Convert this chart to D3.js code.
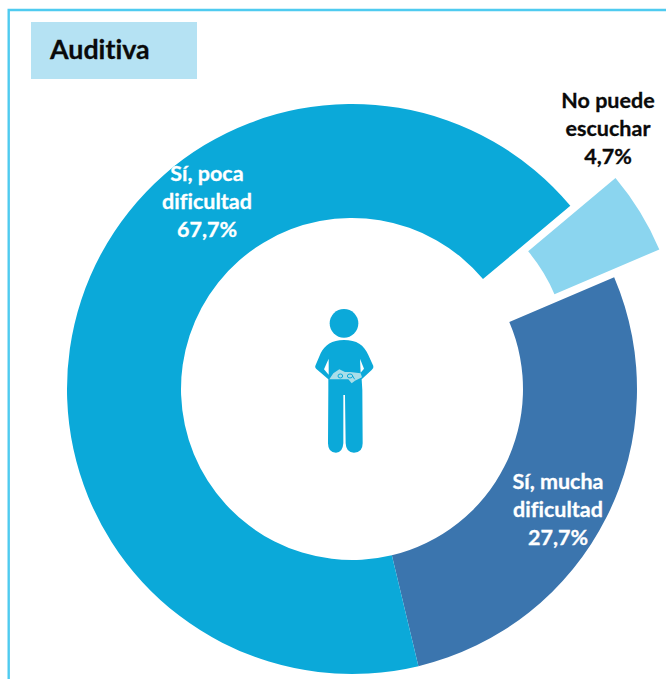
<!DOCTYPE html>
<html><head><meta charset="utf-8">
<script src="https://cdn.jsdelivr.net/npm/d3@7"></script>
<style>html,body{margin:0;padding:0;background:#fff;overflow:hidden}svg{display:block}text{font-family:Lato,"Open Sans",sans-serif;font-weight:700;font-variant-ligatures:none;font-feature-settings:"liga" 0}</style>
</head><body><svg id="c" width="666" height="679"></svg>
<script>
const categories = ["No puede escuchar", "Sí, mucha dificultad", "Sí, poca dificultad"];
const values = [4.7, 27.7, 67.7];
const valueLabels = ["4,7%", "27,7%", "67,7%"];
const labelLines = [["No puede", "escuchar"], ["Sí, mucha", "dificultad"], ["Sí, poca", "dificultad"]];
const colors = ["#8BD5EF", "#3B75AE", "#0BA9D9"];
const textColors = ["#0a0a0a", "#ffffff", "#ffffff"];
const labelCentres = [[608, 108], [558, 489], [207, 181]];
const explode = [53, 0, 0];
const title = "Auditiva";

const svg = d3.select("#c");
const cx = 352, cy = 389, R = 285, r = 171;

svg.append("path").attr("d", "M8.7 679V10H666").attr("fill", "none").attr("stroke", "#4FCBF0").attr("stroke-width", 2.4);
svg.append("rect").attr("x", 31).attr("y", 22).attr("width", 166).attr("height", 57).attr("fill", "#B5E2F3");
svg.append("text").attr("x", 50).attr("y", 59).attr("font-size", 26.8).attr("fill", "#0a0a0a").attr("stroke", "#0a0a0a").attr("stroke-width", 0.3).text(title);

const start = 50 * Math.PI / 180;
const pie = d3.pie().sort(null).value(d => d).startAngle(start).endAngle(start + 2 * Math.PI);
const arc = d3.arc().innerRadius(r).outerRadius(R);
const g = svg.append("g").attr("transform", `translate(${cx},${cy})`);
g.selectAll("path").data(pie(values)).join("path")
  .attr("d", arc)
  .attr("fill", (d, i) => colors[i])
  .attr("transform", (d, i) => {
    const m = (d.startAngle + d.endAngle) / 2;
    return `translate(${explode[i] * Math.sin(m)},${-explode[i] * Math.cos(m)})`;
  });

categories.forEach((c, i) => {
  const t = svg.append("text").attr("text-anchor", "middle").attr("font-size", 21.5).attr("fill", textColors[i]).attr("stroke", textColors[i]).attr("stroke-width", 0.3);
  labelLines[i].concat(valueLabels[i]).forEach((line, j) => {
    t.append("tspan").attr("x", labelCentres[i][0]).attr("y", labelCentres[i][1] + j * 28).text(line);
  });
});

// pictogram
const icon = svg.append("g").attr("transform", "translate(300,290) scale(0.3333)");
icon.append("circle").attr("cx", 132).attr("cy", 100).attr("r", 43).attr("fill", "#0BA9D9");
icon.append("path").attr("fill", "#0BA9D9").attr("d",
 "M132 150C170 150 192 165 205 195L220 228Q222 235 215 240L185 268L187 300L188 460Q188 488 162 488Q138 488 137 460L135 315L130 315L130 460Q128 488 108 488Q84 488 84 460L85 300L85 268L50 238Q43 232 47 225L62 190C75 165 95 150 132 150Z");
icon.append("path").attr("fill", "#fff").attr("d", "M86 206L72 238L86 254Z");
icon.append("path").attr("fill", "#fff").attr("d", "M180 206L192 236L182 248Z");
icon.append("path").attr("fill", "#A9DEE9").attr("d",
 "M88 268L100 250L118 238L135 246L150 246L182 250L186 262L165 272L155 280L145 268L90 268Z");
icon.append("path").attr("fill", "none").attr("stroke", "#0BA9D9").attr("stroke-width", 3)
  .attr("d", "M114 258a7 6 0 1 0 14 0a7 6 0 1 0-14 0M142 258a8 6 0 1 0 16 0a8 6 0 1 0-16 0M158 258l6 10");
</script></body></html>
